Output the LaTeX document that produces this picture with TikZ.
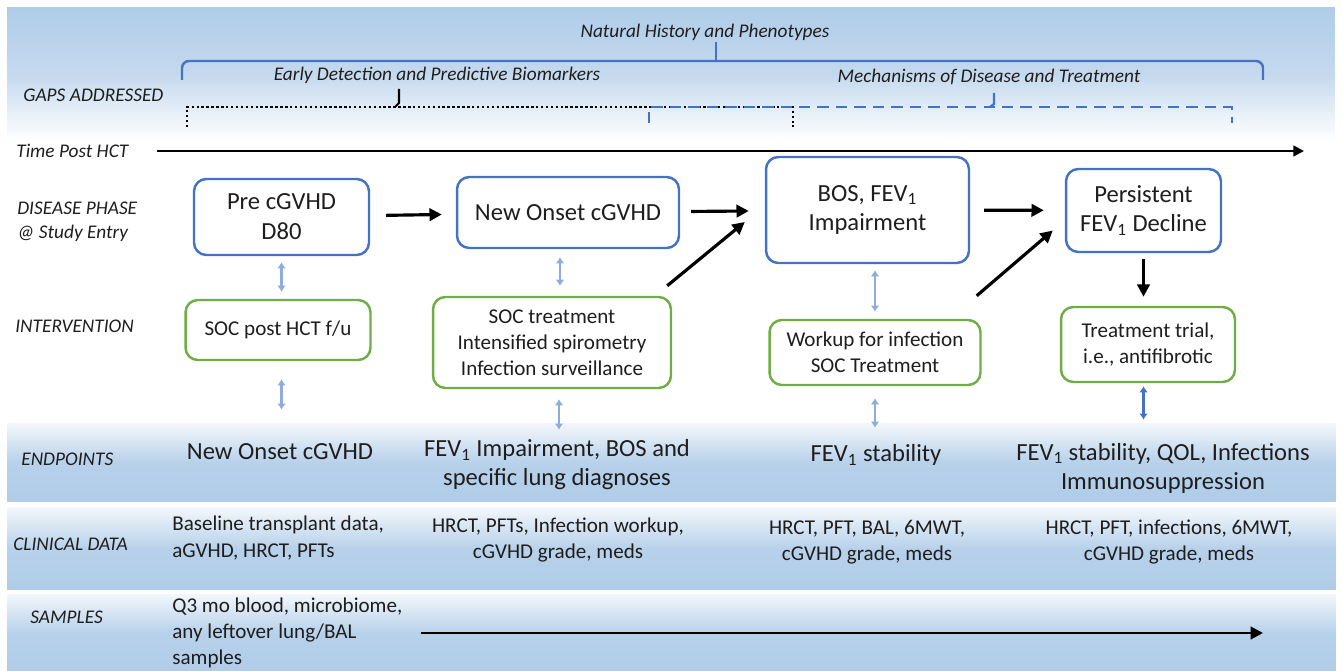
\documentclass[tikz,border=0pt]{standalone}
\usepackage{fontspec}
\setmainfont{Carlito}
\usetikzlibrary{arrows.meta}

\definecolor{boxblue}{RGB}{68,114,196}
\definecolor{boxgreen}{RGB}{112,173,71}
\definecolor{linkblue}{RGB}{143,172,222}
\definecolor{bandblue}{RGB}{176,204,232}
\definecolor{inkgray}{RGB}{30,30,30}

\begin{document}
\begin{tikzpicture}[x=0.02cm, y=-0.02cm, text=inkgray,
    band/.style={minimum width=26.58cm, inner sep=0, top color=bandblue!15, bottom color=bandblue, middle color=bandblue!90},
    rowlabel/.style={anchor=west, inner sep=0, align=left, font=\fontsize{11}{13.6}\selectfont\itshape},
    gaplabel/.style={inner sep=0, font=\fontsize{11}{13}\selectfont\itshape},
    phase/.style={draw=boxblue, line width=1.4pt, rounded corners=7pt, fill=white, align=center, inner sep=0, font=\fontsize{14}{17}\selectfont},
    action/.style={draw=boxgreen, line width=1.4pt, rounded corners=7pt, fill=white, align=center, inner sep=0, font=\fontsize{12}{14.8}\selectfont},
    endpoint/.style={align=center, inner sep=0, font=\fontsize{14}{16.5}\selectfont},
    clinical/.style={align=center, inner sep=0, font=\fontsize{12}{15}\selectfont},
    brace/.style={draw=boxblue, line width=1.4pt, rounded corners=4pt},
    dotline/.style={draw=black, line width=1.5pt, dash pattern=on 1.4pt off 1.4pt},
    dashline/.style={draw=boxblue, line width=1.5pt, dash pattern=on 6.5pt off 4pt},
    flow/.style={-{Triangle[length=7pt,width=7pt]}, line width=1.8pt},
    timeline/.style={-{Triangle[length=6pt,width=6pt]}, line width=1.3pt},
    link/.style={{Latex[length=3.5pt,width=5pt]}-{Latex[length=3.5pt,width=5pt]}, draw=linkblue, line width=1.3pt}]

    \useasboundingbox (0,0) rectangle (1342,671);

    % background bands
    \node[inner sep=0, minimum width=26.56cm, minimum height=2.66cm, top color=bandblue, bottom color=white, middle color=bandblue!75] (gapband) at (671,73.5) {};
    \node[band, minimum height=1.58cm] (epband) at (671.5,462.5) {};
    \node[band, minimum height=1.66cm] (cdband) at (671.5,548.5) {};
    \node[band, minimum height=1.54cm] (smpband) at (671.5,632.5) {};

    % row labels
    \node[rowlabel] (lbl-gaps) at (23,95) {GAPS ADDRESSED};
    \node[rowlabel] (lbl-time) at (16,151) {Time Post HCT};
    \node[rowlabel] (lbl-phase) at (17,222) {DISEASE PHASE\\@ Study Entry};
    \node[rowlabel] (lbl-int) at (15,326) {INTERVENTION};
    \node[rowlabel] (lbl-ep) at (21,459) {ENDPOINTS};
    \node[rowlabel] (lbl-cd) at (13,544) {CLINICAL DATA};
    \node[rowlabel] (lbl-smp) at (30,617) {SAMPLES};

    % gaps addressed
    \node[gaplabel] (gap-nat) at (705,32) {Natural History and Phenotypes};
    \node[gaplabel] (gap-early) at (437,75) {Early Detection and Predictive Biomarkers};
    \node[gaplabel] (gap-mech) at (989,77) {Mechanisms of Disease and Treatment};
    \draw[brace] (182,80) -- (182,61) -- (1263,61) -- (1263,80);
    \draw[brace] (716,61) -- (716,42);
    \draw[dotline] (187,127) -- (187,107) -- (793,107) -- (793,127);
    \draw[line width=1.2pt] (395,107) -- (399,103) -- (399,89);
    \draw[dashline] (649,123) -- (649,107) -- (1232,107) -- (1232,123);
    \draw[draw=boxblue, line width=1.3pt] (990,107) -- (994,104) -- (994,93);

    % time axis
    \coordinate (tend) at (1304,151);
    \draw[timeline, shorten <=0.56cm] (lbl-time.east) -- (tend);

    % disease phases
    \node[phase, minimum width=3.5cm, minimum height=1.52cm] (b1) at (281.5,217) {Pre cGVHD\\D80};
    \node[phase, minimum width=4.44cm, minimum height=1.42cm] (b2) at (568,212.5) {New Onset cGVHD};
    \node[phase, minimum width=4.06cm, minimum height=2.12cm] (b3) at (867.5,210) {BOS, FEV\textsubscript{1}\\Impairment};
    \node[phase, minimum width=3.1cm, minimum height=1.66cm] (b4) at (1143.5,210.5) {Persistent\\FEV\textsubscript{1} Decline};

    % interventions
    \node[action, minimum width=3.7cm, minimum height=1.2cm] (g1) at (278,330) {SOC post HCT f/u};
    \node[action, minimum width=4.76cm, minimum height=1.82cm] (g2) at (552,342.5) {SOC treatment\\Intensified spirometry\\Infection surveillance};
    \node[action, minimum width=4.22cm, minimum height=1.3cm] (g3) at (875,352.5) {Workup for infection\\SOC Treatment};
    \node[action, minimum width=3.48cm, minimum height=1.5cm] (g4) at (1148,344.5) {Treatment trial,\\i.e., antifibrotic};

    % endpoints
    \node[endpoint] (ep1) at (280,452) {New Onset cGVHD};
    \node[endpoint] (ep2) at (557,465) {FEV\textsubscript{1} Impairment, BOS and\\specific lung diagnoses};
    \node[endpoint] (ep3) at (876,455) {FEV\textsubscript{1} stability};
    \node[endpoint] (ep4) at (1163,468) {FEV\textsubscript{1} stability, QOL, Infections\\Immunosuppression};

    % clinical data
    \node[clinical, anchor=west, align=left] (cd1) at (172,538) {Baseline transplant data,\\aGVHD, HRCT, PFTs};
    \node[clinical] (cd2) at (558,540) {HRCT, PFTs, Infection workup,\\cGVHD grade, meds};
    \node[clinical] (cd3) at (867,542) {HRCT, PFT, BAL, 6MWT,\\cGVHD grade, meds};
    \node[clinical] (cd4) at (1169,542) {HRCT, PFT, infections, 6MWT,\\cGVHD grade, meds};

    % samples
    \node[clinical, anchor=west, align=left, font=\fontsize{12}{14.8}\selectfont] (smp1) at (172,633) {Q3 mo blood, microbiome,\\any leftover lung/BAL\\samples};
    \coordinate (send) at (1263,633);
    \draw[flow, line width=1.6pt, shorten <=0.36cm] (smp1.east) -- (send);

    % progression arrows
    \draw[flow, shorten <=0.32cm, shorten >=0.28cm] (b1) -- (b2);
    \draw[flow, shorten <=0.22cm, shorten >=0.32cm] (b2) -- (b3);
    \draw[flow, shorten <=0.28cm, shorten >=0.42cm] (b3) -- (b4);
    \draw[flow] ([shift={(-5,-10)}]g2.north east) -- ([shift={(-20,12)}]b3.west);
    \draw[flow] ([shift={(-5,-23)}]g3.north east) -- ([shift={(-12,20)}]b4.west);
    \draw[flow, shorten <=0.12cm, shorten >=0.18cm] (b4.south) -- (b4.south |- g4.north);

    % phase to intervention to endpoint links
    \draw[link, shorten <=0.12cm, shorten >=0.14cm] (b1.south) -- (b1.south |- g1.north);
    \draw[link, shorten <=0.16cm, shorten >=0.2cm] ([xshift=-0.16cm]b2.south) -- ([xshift=-0.16cm]b2.south |- g2.north);
    \draw[link, shorten <=0.12cm, shorten >=0.14cm] (g3.north |- b3.south) -- (g3.north);
    \draw[link, shorten <=0.36cm, shorten >=0.26cm] (g1.south -| b1.south) -- (b1.south |- epband.north);
    \draw[link, shorten <=0.2cm, shorten >=-0.14cm] ([xshift=0.14cm]g2.south) -- ([xshift=0.14cm]g2.south |- epband.north);
    \draw[link, shorten <=0.24cm, shorten >=-0.1cm] (g3.south) -- (g3.south |- epband.north);
    \draw[link, draw=boxblue, shorten <=0.06cm, shorten >=0.06cm] (g4.south -| b4.south) -- (b4.south |- epband.north);
\end{tikzpicture}
\end{document}
